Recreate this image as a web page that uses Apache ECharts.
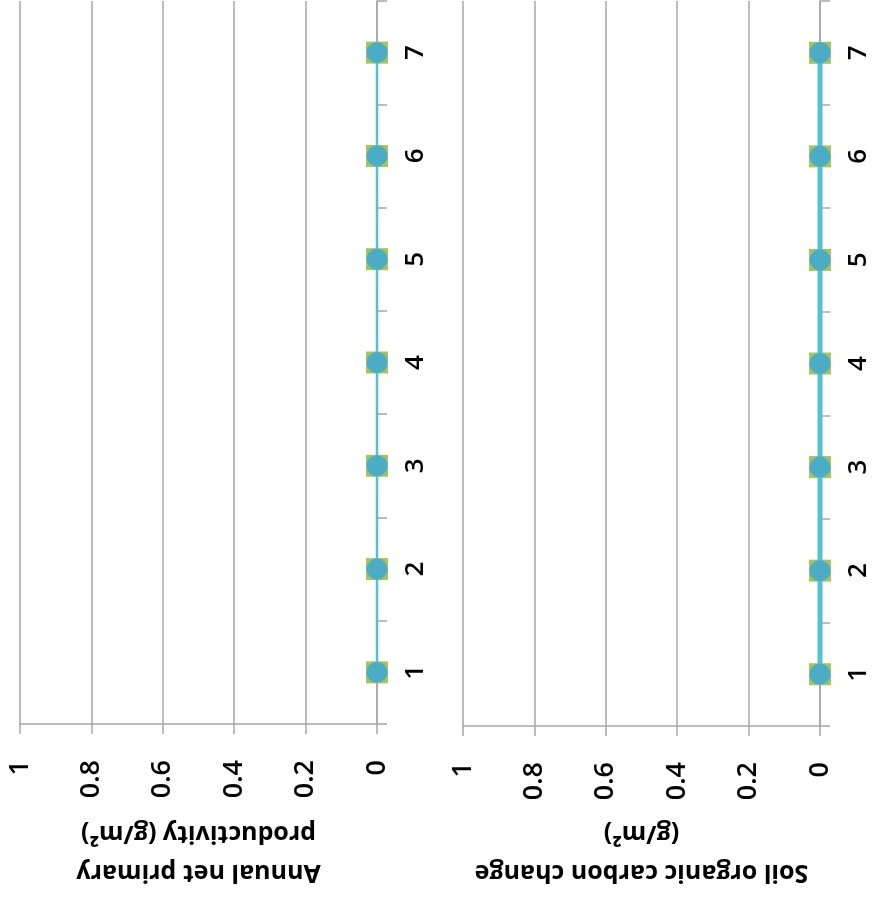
<!DOCTYPE html>
<html>
<head>
<meta charset="utf-8">
<script src="https://cdn.jsdelivr.net/npm/echarts@6/dist/echarts.min.js"></script>
<style>
html,body{margin:0;padding:0;background:#fff;}
#chart{width:872px;height:897px;}
</style>
</head>
<body>
<div id="chart"></div>
<script>
const categories = ['1','2','3','4','5','6','7'];
const nppValues = [0,0,0,0,0,0,0];
const socValues = [0,0,0,0,0,0,0];
const valueTicks = { min: 0, max: 1, interval: 0.2 };
const nppTitle = 'Annual net primary\nproductivity (g/m²)';
const socTitle = 'Soil organic carbon change\n(g/m²)';

const FONT = '"Open Sans", "Liberation Sans", sans-serif';
const gridColor = '#A6A6A6';
const lineColor = '#4FC3CF';
const circleColor = '#4BACC6';
const squareColor = '#A3C45E';

function valueAxis(idx, title, gap) {
  return {
    type: 'value', gridIndex: idx, position: 'bottom', inverse: true,
    min: valueTicks.min, max: valueTicks.max, interval: valueTicks.interval,
    axisLine: { show: true, onZero: false, lineStyle: { color: gridColor, width: 1.5 } },
    axisTick: { show: true, length: 10, lineStyle: { color: gridColor, width: 1.5 } },
    splitLine: { show: true, lineStyle: { color: gridColor, width: 1.5 } },
    axisLabel: { rotate: 90, margin: 36, color: '#000', fontSize: 27, fontFamily: FONT, fontWeight: 600 },
    name: title, nameLocation: 'middle', nameRotate: 180, nameGap: gap,
    nameTextStyle: { color: '#000', fontSize: 25, fontWeight: 'bold', fontFamily: FONT, lineHeight: 39 }
  };
}
function catAxis(idx) {
  return {
    type: 'category', gridIndex: idx, position: 'right', data: categories, boundaryGap: true,
    axisLine: { show: true, onZero: false, lineStyle: { color: gridColor, width: 1.5 } },
    axisTick: { show: true, length: 10, inside: false, lineStyle: { color: gridColor, width: 1.5 } },
    splitLine: { show: false },
    axisLabel: { rotate: 90, margin: 26, color: '#000', fontSize: 26, fontFamily: FONT, fontWeight: 600 }
  };
}
function seriesPair(idx, data, lw) {
  return [
    { type: 'line', xAxisIndex: idx, yAxisIndex: idx, data: data, symbol: 'rect', symbolSize: 22,
      lineStyle: { width: 0, opacity: 0 }, itemStyle: { color: squareColor }, z: 2, silent: true },
    { type: 'line', xAxisIndex: idx, yAxisIndex: idx, data: data, symbol: 'circle', symbolSize: 21,
      lineStyle: { width: lw, color: lineColor }, itemStyle: { color: circleColor }, z: 3, silent: true }
  ];
}
function pairData(vals){ return vals.map((v,i)=>[v, categories[i]]); }

const chart = echarts.init(document.getElementById('chart'), null, { renderer: 'canvas' });
chart.setOption({
  animation: false,
  backgroundColor: '#fff',
  grid: [
    { left: 20, right: 495, top: 1, bottom: 164, containLabel: false },
    { left: 463, right: 52, top: 1, bottom: 171, containLabel: false }
  ],
  xAxis: [ valueAxis(0, nppTitle, 90), valueAxis(1, socTitle, 88) ],
  yAxis: [ catAxis(0), catAxis(1) ],
  series: [
    ...seriesPair(0, pairData(nppValues), 2.5),
    ...seriesPair(1, pairData(socValues), 5)
  ]
});
</script>
</body>
</html>
